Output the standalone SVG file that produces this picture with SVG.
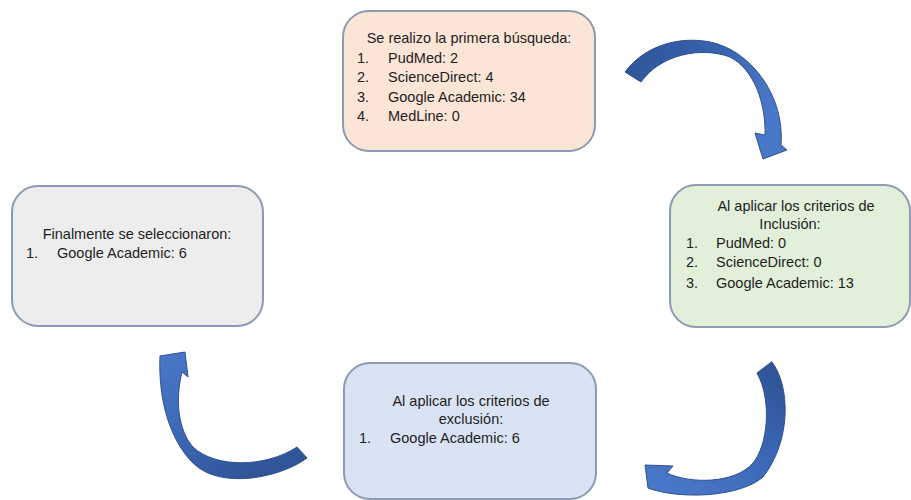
<svg xmlns="http://www.w3.org/2000/svg" width="911" height="500" viewBox="0 0 911 500">
<defs>
<linearGradient id="gA1" x1="0" y1="0" x2="1" y2="0.3">
<stop offset="0" stop-color="#2F5597"/>
<stop offset="0.55" stop-color="#3862AE"/>
<stop offset="1" stop-color="#4A78C8"/>
</linearGradient>
<linearGradient id="gA2" x1="0.8" y1="0" x2="0.2" y2="1">
<stop offset="0" stop-color="#2F5597"/>
<stop offset="0.5" stop-color="#3B67B5"/>
<stop offset="1" stop-color="#4A78C8"/>
</linearGradient>
<linearGradient id="gA3" x1="0" y1="0" x2="0.6" y2="1">
<stop offset="0" stop-color="#4A78C8"/>
<stop offset="0.5" stop-color="#3D69B8"/>
<stop offset="1" stop-color="#2F5597"/>
</linearGradient>
</defs>
<style>
.box{stroke:#8C9BB3;stroke-width:2}
.t{font-family:"Liberation Sans",Arial,sans-serif;font-size:14.5px;fill:#1e1e1e}
.c{text-anchor:middle}
.arr{stroke:#2F528F;stroke-width:1;stroke-linejoin:round}
</style>
<rect width="911" height="500" fill="#ffffff"/>
<g id="connectors">
<path class="arr" fill="url(#gA1)" d="M625,72 C645,45 680,36 710,42 C750,50 785,95 781,145 L787,150 L763,159 L755,133 L765,135 C766,105 755,70 730,57 C700,46 660,55 641,82 Z"/>
<path class="arr" fill="url(#gA2)" d="M771.7,361.7 C790,385 792,440 763,477 C740,497 680,500 648,488 L645,465 L673,466 L667,473 C690,484 735,484 753,463 C768,445 772,400 757,373 Z"/>
<path class="arr" fill="url(#gA3)" d="M297,447 L307,458 C280,478 220,490 193,463 C170,440 158,400 160,356 L185,352 L188,377 L182,372 C175,400 178,430 193,447 C215,468 265,468 297,447 Z"/>
</g>
<g id="node-busqueda">
<rect class="box" x="343" y="11" width="252" height="140" rx="26" fill="#FBE5D6"/>
<text class="t c" x="469" y="43">Se realizo la primera búsqueda:</text>
<text class="t" x="357" y="63">1.</text><text class="t" x="388" y="63">PudMed: 2</text>
<text class="t" x="357" y="82">2.</text><text class="t" x="388" y="82">ScienceDirect: 4</text>
<text class="t" x="357" y="102">3.</text><text class="t" x="388" y="102">Google Academic: 34</text>
<text class="t" x="357" y="121">4.</text><text class="t" x="388" y="121">MedLine: 0</text>
</g>
<g id="node-inclusion">
<rect class="box" x="670" y="185" width="240" height="142" rx="26" fill="#E2F0D9"/>
<text class="t c" x="796" y="211">Al aplicar los criterios de</text>
<text class="t c" x="790" y="229">Inclusión:</text>
<text class="t" x="686" y="248">1.</text><text class="t" x="716" y="248">PudMed: 0</text>
<text class="t" x="686" y="267">2.</text><text class="t" x="716" y="267">ScienceDirect: 0</text>
<text class="t" x="686" y="288">3.</text><text class="t" x="716" y="288">Google Academic: 13</text>
</g>
<g id="node-exclusion">
<rect class="box" x="344" y="363" width="252" height="136" rx="26" fill="#DAE3F3"/>
<text class="t c" x="471" y="406">Al aplicar los criterios de</text>
<text class="t c" x="471" y="424">exclusión:</text>
<text class="t" x="359" y="443">1.</text><text class="t" x="390" y="443">Google Academic: 6</text>
</g>
<g id="node-final">
<rect class="box" x="12" y="186" width="251" height="140" rx="26" fill="#EDEDED"/>
<text class="t c" x="137" y="239">Finalmente se seleccionaron:</text>
<text class="t" x="26" y="258">1.</text><text class="t" x="57" y="258">Google Academic: 6</text>
</g>
</svg>
